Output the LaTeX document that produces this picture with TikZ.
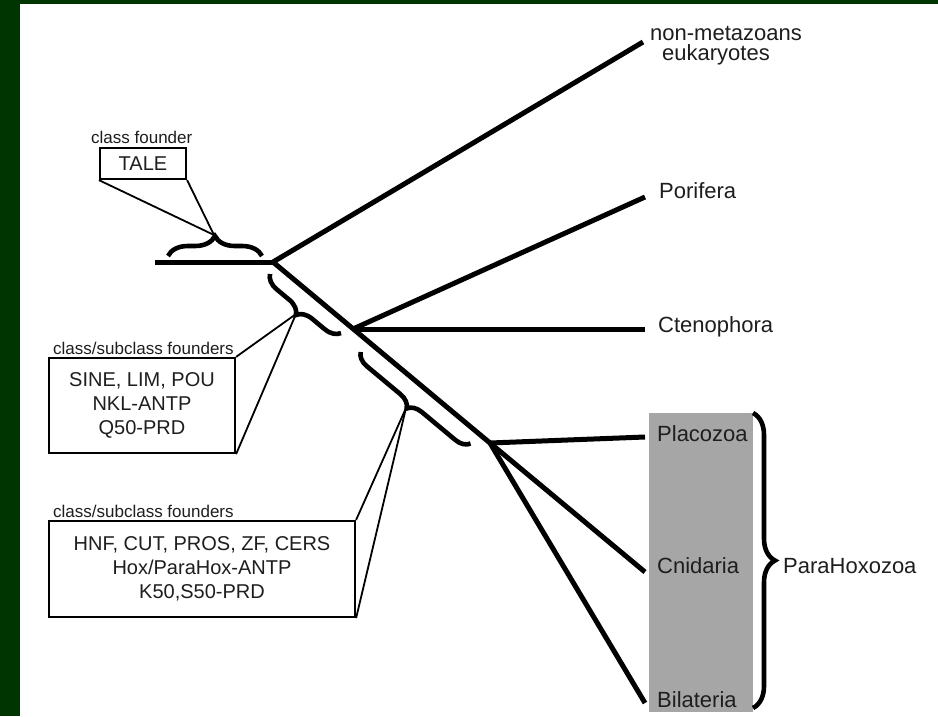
\documentclass[tikz,border=0pt]{standalone}
\usepackage{fontspec}
\setmainfont{Liberation Sans}
\usetikzlibrary{decorations.pathreplacing}
\definecolor{framegreen}{RGB}{0,52,0}
\definecolor{cladefill}{RGB}{166,166,166}
\definecolor{inkgray}{RGB}{30,30,30}
\begin{document}
\begin{tikzpicture}[x=1pt,y=-1pt,
  branch/.style={line width=5pt},
  bracemark/.style={decorate, decoration={brace, amplitude=#1}, line width=4.6pt},
  lbl/.style={anchor=base west, inner sep=0pt, text=inkgray, font=\fontsize{22}{22}\selectfont},
  smalllbl/.style={anchor=base west, inner sep=0pt, text=inkgray, font=\fontsize{17}{17}\selectfont},
  founders/.style={draw, line width=2.2pt, align=center, inner sep=0pt, text=inkgray,
                   font=\fontsize{20}{24}\selectfont},
  leader/.style={line width=1.8pt}]
% page frame
\useasboundingbox (0,0) rectangle (938,716);
\fill[framegreen] (0,0) rectangle (938,716);
\fill[white] (20,4) rectangle (938,716);

% shaded ParaHoxozoa clade
\fill[cladefill] (649,413) rectangle (753,712);

% tree coordinates
\coordinate (root) at (155,262);
\coordinate (A) at (273,262);
\coordinate (B) at (353,329);
\coordinate (C) at (490,443);
\coordinate (nm) at (643,42);
\coordinate (por) at (645,197);
\coordinate (cte) at (645,329);
\coordinate (pla) at (645,437);
\coordinate (cni) at (645,572);
\coordinate (bil) at (645,703);

% branches
\draw[branch] (root) -- (A);
\draw[branch, line join=round] (nm) -- (A) -- (C);
\draw[branch] (B) -- (por);
\draw[branch] (B) -- (cte);
\draw[branch] (C) -- (pla);
\draw[branch] (C) -- (cni);
\draw[branch] (C) -- (bil);

% braces marking the founder events
\draw[bracemark=20] (168,256) -- (262,256);
\draw[bracemark=15] (341,333) -- (270,274);
\draw[bracemark=14] (470.5,443.5) -- (360.7,352);
\draw[bracemark=22] (753,413) -- (753,708);
\coordinate (t1) at (214,235);
\coordinate (t2) at (296,314);
\coordinate (t3) at (406,408);

% leaf labels
\node[lbl] (lnm) at (650,40) {non-metazoans};
\node[lbl] (leu) at (662,60) {eukaryotes};
\node[lbl] (lpor) at (659,198) {Porifera};
\node[lbl] (lcte) at (658,332) {Ctenophora};
\node[lbl] (lpla) at (657,441) {Placozoa};
\node[lbl] (lcni) at (657,573) {Cnidaria};
\node[lbl] (lbil) at (657,707) {Bilateria};
\node[lbl] (lpara) at (783,573) {ParaHoxozoa};

% founder boxes
\node[smalllbl] (cap1) at (91,143) {class founder};
\node[founders, minimum width=86pt, minimum height=31pt] (tale) at (143,163.5) {TALE};
\node[smalllbl] (cap2) at (53,354) {class/subclass founders};
\node[founders, minimum width=186pt, minimum height=95pt] (box1) at (142,405.5)
  {SINE, LIM, POU\\NKL-ANTP\\Q50-PRD};
\node[smalllbl] (cap3) at (53,517) {class/subclass founders};
\node[founders, minimum width=306pt, minimum height=96pt] (box2) at (202,569)
  {HNF, CUT, PROS, ZF, CERS\\Hox/ParaHox-ANTP\\K50,S50-PRD};

% leader lines from boxes to brace tips
\draw[leader] (tale.south west) -- (t1);
\draw[leader] (tale.south east) -- (t1);
\draw[leader] (box1.north east) -- (t2);
\draw[leader] (box1.south east) -- (t2);
\draw[leader] (box2.north east) -- (t3);
\draw[leader] (box2.south east) -- (t3);
\end{tikzpicture}
\end{document}
